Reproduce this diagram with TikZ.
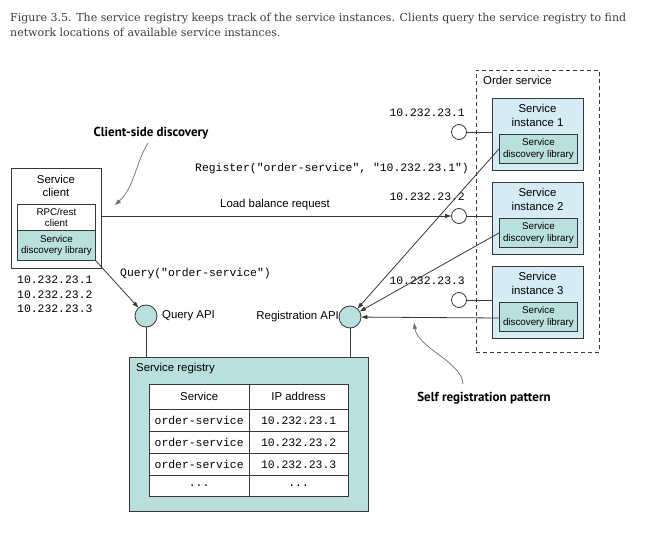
\documentclass[tikz,border=0pt]{standalone}
\usepackage{fontspec}
\setmainfont{Liberation Sans}
\newfontfamily\capfont{DejaVu Serif}
\newfontfamily\monof{Liberation Mono}
\newfontfamily\boldf{PT Sans}
\usetikzlibrary{arrows.meta}
\definecolor{tealc}{RGB}{186,224,221}
\definecolor{bluec}{RGB}{214,236,245}
\definecolor{linec}{RGB}{55,55,55}
\definecolor{capc}{RGB}{60,60,60}
\definecolor{curvec}{RGB}{110,110,110}
\tikzset{
  lbl/.style={font=\fontsize{11.4}{13.5}\selectfont, inner sep=0, align=center},
  smalllbl/.style={font=\fontsize{9.8}{11.5}\selectfont, inner sep=0, align=center},
  mono/.style={font=\monof\fontsize{11.4}{13}\selectfont, inner sep=0},
  boldlbl/.style={font=\boldf\bfseries\fontsize{13}{15}\selectfont, inner sep=0},
  box/.style={draw=linec, line width=0.8pt, inner sep=0, anchor=north west},
  port/.style={circle, draw=linec, line width=0.8pt, fill=white, minimum size=15pt, inner sep=0},
  api/.style={circle, draw=linec, line width=0.8pt, fill=tealc, minimum size=22pt, inner sep=0},
  conn/.style={draw=linec, line width=0.8pt},
  arr/.style={conn, -{Triangle[length=6pt,width=4pt]}},
  cell/.style={draw=linec, line width=0.8pt, fill=white, inner sep=0, anchor=north west, minimum width=99.5pt}
}
\begin{document}
\begin{tikzpicture}[x=1pt,y=-1pt]
\useasboundingbox (0,0) rectangle (666,534);
\fill[white] (0,0) rectangle (666,534);

% caption
\node[anchor=base west, inner sep=0, text=capc, font=\capfont\fontsize{11}{13}\selectfont] (cap1) at (10,22)
  {Figure 3.5. The service registry keeps track of the service instances. Clients query the service registry to find};
\node[anchor=base west, inner sep=0, text=capc, font=\capfont\fontsize{11}{13}\selectfont] (cap2) at (10,37)
  {network locations of available service instances.};

% order service
\node[box, dashed, dash pattern=on 4pt off 3pt, minimum width=123pt, minimum height=282pt] (os) at (476,70) {};
\node[lbl, anchor=west] (oslbl) at (483,80) {Order service};

\foreach \i/\y in {1/98, 2/182, 3/266} {
  \node[box, fill=bluec, minimum width=91pt, minimum height=72pt] (inst\i) at (492,\y) {};
  \node[lbl] (insttxt\i) at (537.5,\y+17.5) {Service\\instance \i};
  \node[box, fill=tealc, minimum width=78pt, minimum height=29pt] (lib\i) at (499,\y+36) {};
  \node[smalllbl] (libtxt\i) at (lib\i.center) {Service\\discovery library};
  \node[port] (p\i) at (459,\y+34) {};
  \draw[conn] (p\i) -- (inst\i.west |- p\i);
  \node[mono, anchor=base east] (ip\i) at (465,\y+19) {10.232.23.\i};
}

% service client
\node[box, fill=white, minimum width=90pt, minimum height=100pt] (sc) at (11,168) {};
\node[lbl] (sctxt) at (56,186) {Service\\client};
\node[box, fill=white, minimum width=78pt, minimum height=26pt] (rpc) at (17,204) {};
\node[smalllbl] (rpctxt) at (rpc.center) {RPC/rest\\client};
\node[box, fill=tealc, minimum width=78pt, minimum height=30pt] (clib) at (17,230) {};
\node[smalllbl] (clibtxt) at (clib.center) {Service\\discovery library};

\node[mono, anchor=west] (cip1) at (17,280) {10.232.23.1};
\node[mono, anchor=west] (cip2) at (17,295) {10.232.23.2};
\node[mono, anchor=west] (cip3) at (17,309) {10.232.23.3};

% APIs
\node[api] (qapi) at (146,316) {};
\node[lbl, anchor=west] (qapitxt) at (162,316) {Query API};
\node[api] (rapi) at (350,317) {};
\node[lbl, anchor=east] (rapitxt) at (339,317) {Registration API};

% registry
\node[box, fill=tealc, minimum width=239pt, minimum height=154pt] (reg) at (129,357) {};
\node[lbl, anchor=west] (regtxt) at (136,369) {Service registry};

\node[cell, minimum height=25pt] (h1) at (149,384) {};
\node[lbl] at (h1.center) {Service};
\node[cell, minimum height=25pt] (h2) at (248.5,384) {};
\node[lbl] at (h2.center) {IP address};
\foreach \r/\y in {1/409, 2/431, 3/453} {
  \node[cell, minimum height=22pt] (a\r) at (149,\y) {};
  \node[mono] at (a\r.center) {order-service};
  \node[cell, minimum height=22pt] (b\r) at (248.5,\y) {};
  \node[mono] at (b\r.center) {10.232.23.\r};
}
\node[cell, minimum height=21pt] (a4) at (149,475) {};
\node[mono] at (a4.center) {...};
\node[cell, minimum height=21pt] (b4) at (248.5,475) {};
\node[mono] at (b4.center) {...};

% connectors
\draw[conn] (qapi) -- (qapi |- reg.north);
\draw[conn] (rapi) -- (rapi |- reg.north);
\draw[arr] (sc.east |- p2) -- (p2);
\node[lbl] (lbr) at (275,205) {Load balance request};
\draw[arr] (clib.south east) -- (qapi);
\node[mono, anchor=west] (qlbl) at (120,274) {Query("order-service")};
\node[mono, anchor=west] (rlbl) at (195,169) {Register("order-service", "10.232.23.1")};
\draw[arr] (lib1.west) -- (rapi);
\draw[arr] (lib2.west) -- (rapi);
\draw[arr] (lib3.west |- 0,318) -- (rapi);

% annotations
\node[boldlbl] (csd) at (151,133) {Client-side discovery};
\coordinate (csdtip) at (115,205);
\draw[curvec, line width=0.7pt, -{Triangle[length=6pt,width=4pt]}] (148,143) .. controls (136,162) and (134,188) .. (csdtip);
\node[boldlbl] (srp) at (484,398) {Self registration pattern};
\coordinate (srptip) at (414,323);
\draw[curvec, line width=0.7pt, -{Triangle[length=6pt,width=4pt]}] (463,384) .. controls (462,362) and (418,348) .. (srptip);
\end{tikzpicture}
\end{document}
